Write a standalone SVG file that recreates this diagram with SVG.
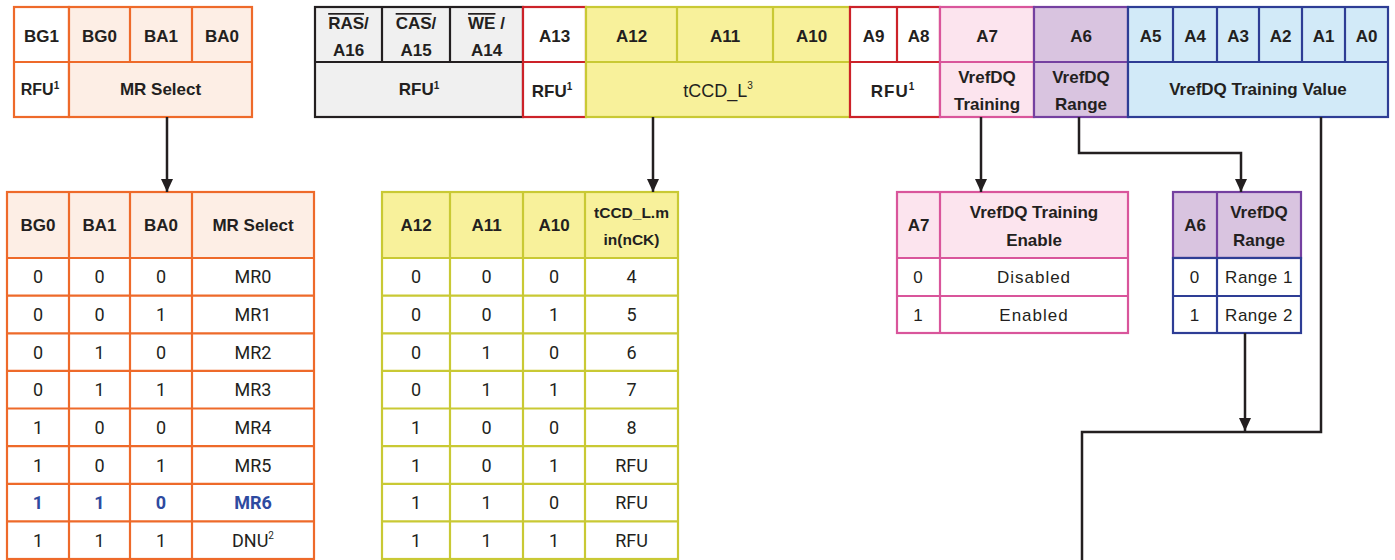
<svg xmlns="http://www.w3.org/2000/svg" width="1395" height="560" viewBox="0 0 1395 560">
<defs>
<style>
text{font-family:"Liberation Sans",Arial,sans-serif;fill:#231f20;text-anchor:middle}
.b{font-weight:bold;font-size:17px}
.d{font-family:Roboto,"Liberation Sans",sans-serif;font-size:18px}
.dl{font-size:17px;letter-spacing:1px}
.sup{font-size:10px}
.or{stroke:#ee6a2a;stroke-width:2.2}
.ye{stroke:#c9c934;stroke-width:2.2}
.rd{stroke:#cc2229;stroke-width:2.2}
.pk{stroke:#d9559b;stroke-width:2.2}
.pu{stroke:#7440a0;stroke-width:2.2}
.bl{stroke:#2e3d95;stroke-width:2.2}
.bk{stroke:#231f20;stroke-width:2.2}
.conn{fill:none;stroke:#231f20;stroke-width:2.5}
.blue{fill:#2e4aa0}
</style>
<marker id="ah" markerUnits="userSpaceOnUse" markerWidth="14" markerHeight="12" refX="13" refY="6" orient="auto">
<path d="M0,0 L13,6 L0,12 Z" fill="#231f20"/>
</marker>
</defs>
<rect width="1395" height="560" fill="#ffffff"/>

<!-- top-left register -->
<g id="reg-mr">
<rect x="14" y="7" width="55" height="110" fill="#ffffff" class="or"/>
<rect x="69" y="7" width="183" height="110" fill="#fdeee5" class="or"/>
<line x1="14" y1="62" x2="252" y2="62" class="or"/>
<line x1="130" y1="7" x2="130" y2="62" class="or"/>
<line x1="192" y1="7" x2="192" y2="62" class="or"/>
<text class="b" x="41.5" y="42">BG1</text>
<text class="b" x="99.5" y="42">BG0</text>
<text class="b" x="161" y="42">BA1</text>
<text class="b" x="222" y="42">BA0</text>
<text class="b" x="40" y="95" style="font-size:16px">RFU<tspan class="sup" dy="-6">1</tspan></text>
<text class="b" x="160.5" y="95">MR Select</text>
</g>

<!-- gray RFU register -->
<g id="reg-gray">
<rect x="315" y="7" width="208" height="110" fill="#f0f0f0" class="bk"/>
<line x1="315" y1="62" x2="523" y2="62" class="bk"/>
<line x1="382" y1="7" x2="382" y2="62" class="bk"/>
<line x1="450" y1="7" x2="450" y2="62" class="bk"/>
<text class="b" x="348.5" y="29"><tspan style="text-decoration:overline">RAS</tspan>/</text>
<text class="b" x="348.5" y="56">A16</text>
<text class="b" x="416" y="29"><tspan style="text-decoration:overline">CAS</tspan>/</text>
<text class="b" x="416" y="56">A15</text>
<text class="b" x="486.5" y="29"><tspan style="text-decoration:overline">WE</tspan> /</text>
<text class="b" x="486.5" y="56">A14</text>
<text class="b" x="419" y="95">RFU<tspan class="sup" dy="-6">1</tspan></text>
</g>

<!-- A13 -->
<g id="reg-a13">
<rect x="523" y="7" width="63" height="110" fill="#ffffff" class="rd"/>
<line x1="523" y1="62" x2="586" y2="62" class="rd"/>
<text class="b" x="554.5" y="42">A13</text>
<text class="b" x="552" y="97">RFU<tspan class="sup" dy="-7">1</tspan></text>
</g>

<!-- tCCD_L -->
<g id="reg-tccd">
<rect x="586" y="7" width="264" height="110" fill="#f8f19b" class="ye"/>
<line x1="586" y1="62" x2="850" y2="62" class="ye"/>
<line x1="677" y1="7" x2="677" y2="62" class="ye"/>
<line x1="773" y1="7" x2="773" y2="62" class="ye"/>
<text class="b" x="631.5" y="42">A12</text>
<text class="b" x="725" y="42">A11</text>
<text class="b" x="811.5" y="42">A10</text>
<text x="718" y="97" style="font-size:18px">tCCD_L<tspan class="sup" dy="-8">3</tspan></text>
</g>

<!-- A9 A8 -->
<g id="reg-a9a8">
<rect x="850" y="7" width="90" height="110" fill="#ffffff" class="rd"/>
<line x1="850" y1="62" x2="940" y2="62" class="rd"/>
<line x1="897" y1="7" x2="897" y2="62" class="rd"/>
<text class="b" x="873.5" y="42">A9</text>
<text class="b" x="918.5" y="42">A8</text>
<text class="b" x="893" y="97" style="letter-spacing:1px">RFU<tspan class="sup" dy="-7">1</tspan></text>
</g>

<!-- A7 -->
<g id="reg-a7">
<rect x="940" y="7" width="94" height="110" fill="#fce4ee" class="pk"/>
<line x1="940" y1="62" x2="1034" y2="62" class="pk"/>
<text class="b" x="987" y="42">A7</text>
<text class="b" x="987" y="83">VrefDQ</text>
<text class="b" x="987" y="110">Training</text>
</g>

<!-- A6 -->
<g id="reg-a6">
<rect x="1034" y="7" width="94" height="110" fill="#d9c4e0" class="pu"/>
<line x1="1034" y1="62" x2="1128" y2="62" class="pu"/>
<text class="b" x="1081" y="42">A6</text>
<text class="b" x="1081" y="83">VrefDQ</text>
<text class="b" x="1081" y="110">Range</text>
</g>

<!-- A5..A0 -->
<g id="reg-a5a0">
<rect x="1128" y="7" width="260" height="110" fill="#d2eaf8" class="bl"/>
<line x1="1128" y1="62" x2="1388" y2="62" class="bl"/>
<line x1="1173" y1="7" x2="1173" y2="62" class="bl"/>
<line x1="1217" y1="7" x2="1217" y2="62" class="bl"/>
<line x1="1259" y1="7" x2="1259" y2="62" class="bl"/>
<line x1="1302" y1="7" x2="1302" y2="62" class="bl"/>
<line x1="1345" y1="7" x2="1345" y2="62" class="bl"/>
<text class="b" x="1150.5" y="42">A5</text>
<text class="b" x="1195" y="42">A4</text>
<text class="b" x="1238" y="42">A3</text>
<text class="b" x="1280.5" y="42">A2</text>
<text class="b" x="1323.5" y="42">A1</text>
<text class="b" x="1366.5" y="42">A0</text>
<text class="b" x="1258" y="95">VrefDQ Training Value</text>
</g>

<!-- MR select table -->
<g id="table-mr">
<rect x="7" y="192" width="307" height="66" fill="#fdeee5"/>
<rect x="7" y="192" width="307" height="367" fill="none" class="or"/>
<g class="or">
<line x1="69" y1="192" x2="69" y2="559"/>
<line x1="130" y1="192" x2="130" y2="559"/>
<line x1="192" y1="192" x2="192" y2="559"/>
<line x1="7" y1="258" x2="314" y2="258"/>
<line x1="7" y1="295.6" x2="314" y2="295.6"/>
<line x1="7" y1="333.3" x2="314" y2="333.3"/>
<line x1="7" y1="370.9" x2="314" y2="370.9"/>
<line x1="7" y1="408.5" x2="314" y2="408.5"/>
<line x1="7" y1="446.1" x2="314" y2="446.1"/>
<line x1="7" y1="483.8" x2="314" y2="483.8"/>
<line x1="7" y1="521.4" x2="314" y2="521.4"/>
</g>
<text class="b" x="38" y="231">BG0</text>
<text class="b" x="99.5" y="231">BA1</text>
<text class="b" x="161" y="231">BA0</text>
<text class="b" x="253" y="231">MR Select</text>
<text class="d" x="38" y="283">0</text><text class="d" x="99.5" y="283">0</text><text class="d" x="161" y="283">0</text><text class="d" x="253" y="283">MR0</text>
<text class="d" x="38" y="321">0</text><text class="d" x="99.5" y="321">0</text><text class="d" x="161" y="321">1</text><text class="d" x="253" y="321">MR1</text>
<text class="d" x="38" y="358.5">0</text><text class="d" x="99.5" y="358.5">1</text><text class="d" x="161" y="358.5">0</text><text class="d" x="253" y="358.5">MR2</text>
<text class="d" x="38" y="396">0</text><text class="d" x="99.5" y="396">1</text><text class="d" x="161" y="396">1</text><text class="d" x="253" y="396">MR3</text>
<text class="d" x="38" y="434">1</text><text class="d" x="99.5" y="434">0</text><text class="d" x="161" y="434">0</text><text class="d" x="253" y="434">MR4</text>
<text class="d" x="38" y="471.5">1</text><text class="d" x="99.5" y="471.5">0</text><text class="d" x="161" y="471.5">1</text><text class="d" x="253" y="471.5">MR5</text>
<text class="d blue" x="38" y="509" font-weight="bold">1</text><text class="d blue" x="99.5" y="509" font-weight="bold">1</text><text class="d blue" x="161" y="509" font-weight="bold">0</text><text class="d blue" x="253" y="509" font-weight="bold">MR6</text>
<text class="d" x="38" y="547">1</text><text class="d" x="99.5" y="547">1</text><text class="d" x="161" y="547">1</text><text class="d" x="253" y="547">DNU<tspan class="sup" dy="-8">2</tspan></text>
</g>

<!-- tCCD_L table -->
<g id="table-tccd">
<rect x="382" y="192" width="296" height="66" fill="#f8f19b"/>
<rect x="382" y="192" width="296" height="367" fill="none" class="ye"/>
<g class="ye">
<line x1="450" y1="192" x2="450" y2="559"/>
<line x1="523" y1="192" x2="523" y2="559"/>
<line x1="585" y1="192" x2="585" y2="559"/>
<line x1="382" y1="258" x2="678" y2="258"/>
<line x1="382" y1="295.6" x2="678" y2="295.6"/>
<line x1="382" y1="333.3" x2="678" y2="333.3"/>
<line x1="382" y1="370.9" x2="678" y2="370.9"/>
<line x1="382" y1="408.5" x2="678" y2="408.5"/>
<line x1="382" y1="446.1" x2="678" y2="446.1"/>
<line x1="382" y1="483.8" x2="678" y2="483.8"/>
<line x1="382" y1="521.4" x2="678" y2="521.4"/>
</g>
<text class="b" x="416" y="231">A12</text>
<text class="b" x="486.5" y="231">A11</text>
<text class="b" x="554" y="231">A10</text>
<text class="b" x="631.5" y="218" style="font-size:15.5px">tCCD_L.m</text>
<text class="b" x="631.5" y="245" style="font-size:15.5px">in(nCK)</text>
<text class="d" x="416" y="283">0</text><text class="d" x="486.5" y="283">0</text><text class="d" x="554" y="283">0</text><text class="d" x="631.5" y="283">4</text>
<text class="d" x="416" y="321">0</text><text class="d" x="486.5" y="321">0</text><text class="d" x="554" y="321">1</text><text class="d" x="631.5" y="321">5</text>
<text class="d" x="416" y="358.5">0</text><text class="d" x="486.5" y="358.5">1</text><text class="d" x="554" y="358.5">0</text><text class="d" x="631.5" y="358.5">6</text>
<text class="d" x="416" y="396">0</text><text class="d" x="486.5" y="396">1</text><text class="d" x="554" y="396">1</text><text class="d" x="631.5" y="396">7</text>
<text class="d" x="416" y="434">1</text><text class="d" x="486.5" y="434">0</text><text class="d" x="554" y="434">0</text><text class="d" x="631.5" y="434">8</text>
<text class="d" x="416" y="471.5">1</text><text class="d" x="486.5" y="471.5">0</text><text class="d" x="554" y="471.5">1</text><text class="d" x="631.5" y="471.5">RFU</text>
<text class="d" x="416" y="509">1</text><text class="d" x="486.5" y="509">1</text><text class="d" x="554" y="509">0</text><text class="d" x="631.5" y="509">RFU</text>
<text class="d" x="416" y="547">1</text><text class="d" x="486.5" y="547">1</text><text class="d" x="554" y="547">1</text><text class="d" x="631.5" y="547">RFU</text>
</g>

<!-- A7 table -->
<g id="table-a7">
<rect x="897" y="192" width="231" height="66" fill="#fce4ee"/>
<rect x="897" y="192" width="231" height="141" fill="none" class="pk"/>
<line x1="940" y1="192" x2="940" y2="333" class="pk"/>
<line x1="897" y1="258" x2="1128" y2="258" class="pk"/>
<line x1="897" y1="296" x2="1128" y2="296" class="pk"/>
<text class="b" x="918.5" y="231">A7</text>
<text class="b" x="1034" y="218">VrefDQ Training</text>
<text class="b" x="1034" y="246">Enable</text>
<text class="dl" x="918.5" y="283">0</text>
<text class="dl" x="1034" y="283">Disabled</text>
<text class="dl" x="918.5" y="321">1</text>
<text class="dl" x="1034" y="321">Enabled</text>
</g>

<!-- A6 table -->
<g id="table-a6">
<rect x="1173" y="192" width="128" height="66" fill="#d9c4e0" class="pu"/>
<line x1="1217" y1="192" x2="1217" y2="258" class="pu"/>
<rect x="1173" y="258" width="128" height="75" fill="#ffffff" class="bl"/>
<line x1="1217" y1="258" x2="1217" y2="333" class="bl"/>
<line x1="1173" y1="296" x2="1301" y2="296" class="bl"/>
<line x1="1173" y1="258" x2="1301" y2="258" class="bl"/>
<text class="b" x="1195" y="231">A6</text>
<text class="b" x="1259" y="218">VrefDQ</text>
<text class="b" x="1259" y="246">Range</text>
<text class="dl" x="1195" y="283">0</text>
<text class="dl" x="1259" y="283" style="letter-spacing:0.5px">Range 1</text>
<text class="dl" x="1195" y="321">1</text>
<text class="dl" x="1259" y="321" style="letter-spacing:0.5px">Range 2</text>
</g>

<!-- connectors -->
<g id="connectors">
<path class="conn" d="M167,117 V192" marker-end="url(#ah)"/>
<path class="conn" d="M653,117 V192" marker-end="url(#ah)"/>
<path class="conn" d="M981,117 V192" marker-end="url(#ah)"/>
<path class="conn" d="M1079,117 V153 H1241 V192" marker-end="url(#ah)"/>
<path class="conn" d="M1245,333 V431" marker-end="url(#ah)"/>
<path class="conn" d="M1321,117 V432 H1082 V560"/>
</g>
</svg>
